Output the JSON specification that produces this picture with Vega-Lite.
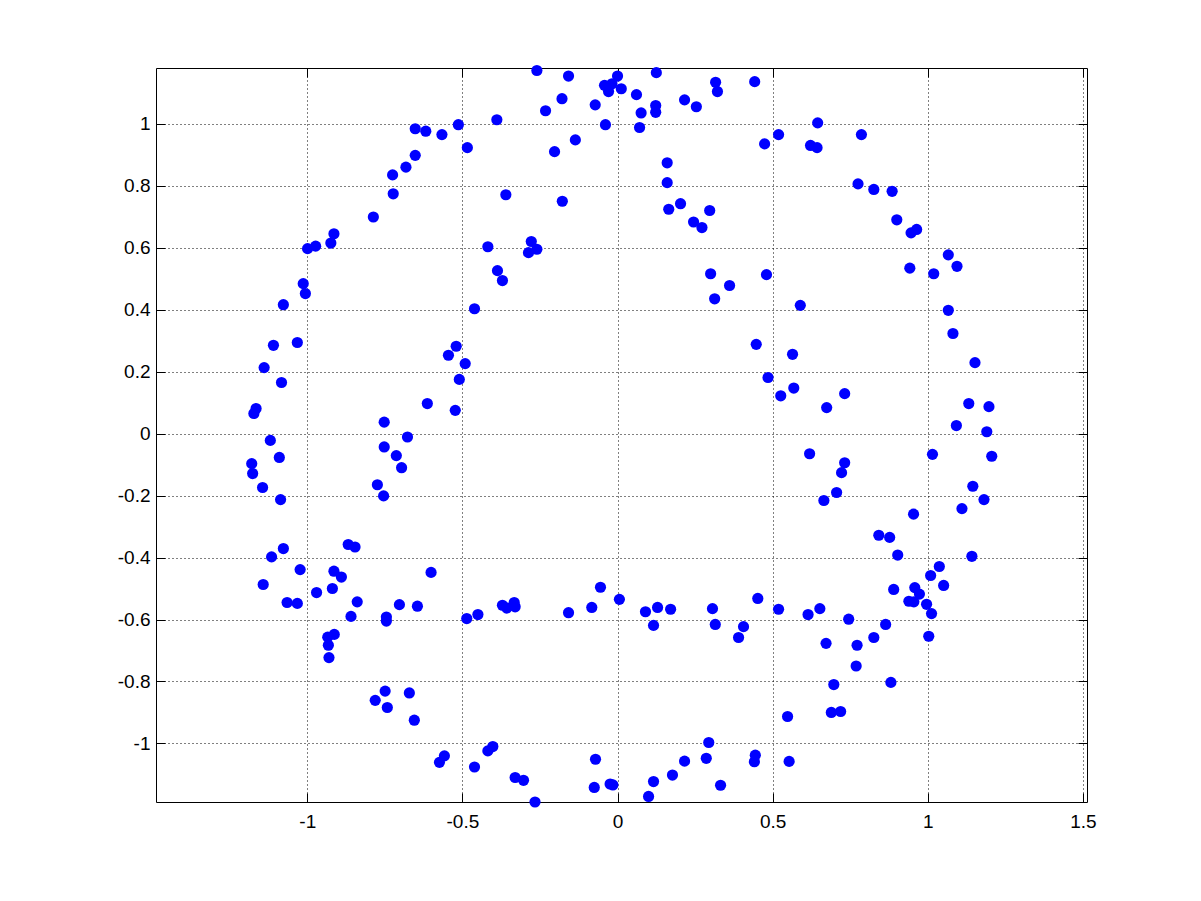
{
  "$schema": "https://vega.github.io/schema/vega-lite/v6.json",
  "width": 931,
  "height": 734,
  "autosize": {"type": "none"},
  "padding": {"left": 156, "top": 68, "right": 114, "bottom": 99},
  "background": "white",
  "config": {
    "view": {"stroke": "black", "strokeWidth": 1},
    "axis": {
      "labelFont": "Liberation Sans",
      "labelFontSize": 19,
      "labelColor": "black",
      "domain": false,
      "tickColor": "black",
      "tickSize": -9,
      "tickWidth": 1,
      "gridColor": "black",
      "gridOpacity": 1,
      "gridDash": [1, 3],
      "gridWidth": 1,
      "title": null
    }
  },
  "data": {"values": [
    {"x": -0.260, "y": 1.172}, {"x": -0.158, "y": 1.154}, {"x": 0.000, "y": 1.154}, {"x": 0.125, "y": 1.165},
    {"x": -0.042, "y": 1.124}, {"x": -0.018, "y": 1.129}, {"x": -0.029, "y": 1.104}, {"x": 0.012, "y": 1.113},
    {"x": 0.061, "y": 1.094}, {"x": -0.072, "y": 1.061}, {"x": -0.179, "y": 1.081}, {"x": -0.232, "y": 1.042},
    {"x": -0.389, "y": 1.013}, {"x": -0.513, "y": 0.997}, {"x": -0.039, "y": 0.997}, {"x": 0.076, "y": 1.035},
    {"x": 0.123, "y": 1.059}, {"x": 0.123, "y": 1.037}, {"x": 0.071, "y": 0.988}, {"x": 0.216, "y": 1.077},
    {"x": 0.254, "y": 1.055}, {"x": 0.316, "y": 1.134}, {"x": 0.322, "y": 1.104}, {"x": 0.442, "y": 1.136},
    {"x": 0.474, "y": 0.935}, {"x": -0.566, "y": 0.965}, {"x": -0.484, "y": 0.923}, {"x": -0.203, "y": 0.910},
    {"x": -0.136, "y": 0.948}, {"x": 0.160, "y": 0.874}, {"x": 0.160, "y": 0.810}, {"x": -0.360, "y": 0.771},
    {"x": -0.178, "y": 0.750}, {"x": 0.165, "y": 0.724}, {"x": 0.203, "y": 0.742}, {"x": 0.297, "y": 0.720},
    {"x": 0.245, "y": 0.683}, {"x": 0.272, "y": 0.665}, {"x": -0.418, "y": 0.603}, {"x": -0.278, "y": 0.620},
    {"x": -0.287, "y": 0.584}, {"x": -0.260, "y": 0.595}, {"x": -0.387, "y": 0.526}, {"x": -0.371, "y": 0.494},
    {"x": -0.461, "y": 0.403}, {"x": 0.300, "y": 0.516}, {"x": 0.361, "y": 0.478}, {"x": 0.313, "y": 0.435},
    {"x": 0.480, "y": 0.513},
    {"x": -1.077, "y": 0.416}, {"x": -1.013, "y": 0.484}, {"x": -1.006, "y": 0.452}, {"x": -0.999, "y": 0.597},
    {"x": -0.973, "y": 0.605}, {"x": -0.924, "y": 0.615}, {"x": -0.914, "y": 0.645}, {"x": -0.787, "y": 0.699},
    {"x": -0.723, "y": 0.774}, {"x": -0.725, "y": 0.835}, {"x": -0.682, "y": 0.860}, {"x": -0.652, "y": 0.898},
    {"x": -0.652, "y": 0.984}, {"x": -0.618, "y": 0.976},
    {"x": 0.519, "y": 0.965}, {"x": 0.645, "y": 1.003}, {"x": 0.622, "y": 0.930}, {"x": 0.643, "y": 0.923},
    {"x": 0.786, "y": 0.965}, {"x": 0.775, "y": 0.806}, {"x": 0.826, "y": 0.788}, {"x": 0.885, "y": 0.782},
    {"x": 0.900, "y": 0.690}, {"x": 0.946, "y": 0.648}, {"x": 0.964, "y": 0.659}, {"x": 1.066, "y": 0.577},
    {"x": 1.094, "y": 0.540}, {"x": 0.942, "y": 0.534}, {"x": 1.019, "y": 0.516}, {"x": 0.589, "y": 0.414},
    {"x": 1.066, "y": 0.398},
    {"x": -1.109, "y": 0.285}, {"x": -1.032, "y": 0.294}, {"x": -1.139, "y": 0.213}, {"x": -1.083, "y": 0.165},
    {"x": -1.165, "y": 0.081}, {"x": -1.172, "y": 0.065}, {"x": -1.119, "y": -0.022}, {"x": -1.090, "y": -0.077},
    {"x": -1.179, "y": -0.097}, {"x": -1.176, "y": -0.129}, {"x": -1.144, "y": -0.174}, {"x": -1.086, "y": -0.213},
    {"x": -0.752, "y": 0.037}, {"x": -0.752, "y": -0.043}, {"x": -0.677, "y": -0.011}, {"x": -0.713, "y": -0.071},
    {"x": -0.696, "y": -0.110}, {"x": -0.774, "y": -0.165}, {"x": -0.754, "y": -0.201}, {"x": -0.613, "y": 0.097},
    {"x": -0.545, "y": 0.253}, {"x": -0.520, "y": 0.282}, {"x": -0.491, "y": 0.226}, {"x": -0.510, "y": 0.175},
    {"x": -0.523, "y": 0.075}, {"x": -0.868, "y": -0.358}, {"x": -0.846, "y": -0.366}, {"x": -1.077, "y": -0.371},
    {"x": -1.115, "y": -0.398},
    {"x": 0.447, "y": 0.288}, {"x": 0.485, "y": 0.181},
    {"x": 1.081, "y": 0.323}, {"x": 1.152, "y": 0.229}, {"x": 0.564, "y": 0.256}, {"x": 0.568, "y": 0.147},
    {"x": 0.526, "y": 0.122}, {"x": 0.732, "y": 0.129}, {"x": 0.674, "y": 0.084}, {"x": 1.132, "y": 0.097},
    {"x": 1.197, "y": 0.087}, {"x": 1.092, "y": 0.026}, {"x": 1.190, "y": 0.006}, {"x": 0.619, "y": -0.065},
    {"x": 0.732, "y": -0.094}, {"x": 0.722, "y": -0.126}, {"x": 0.706, "y": -0.190}, {"x": 0.665, "y": -0.216},
    {"x": 1.015, "y": -0.067}, {"x": 1.206, "y": -0.073}, {"x": 1.145, "y": -0.170}, {"x": 1.181, "y": -0.213},
    {"x": 1.110, "y": -0.242}, {"x": 0.954, "y": -0.260}, {"x": 0.842, "y": -0.328}, {"x": 0.877, "y": -0.335},
    {"x": 0.903, "y": -0.392}, {"x": 1.142, "y": -0.396},
    {"x": -1.023, "y": -0.439}, {"x": -1.142, "y": -0.487}, {"x": -1.065, "y": -0.545}, {"x": -1.032, "y": -0.548},
    {"x": -0.970, "y": -0.513}, {"x": -0.919, "y": -0.500}, {"x": -0.914, "y": -0.444}, {"x": -0.890, "y": -0.463},
    {"x": -0.839, "y": -0.543}, {"x": -0.859, "y": -0.590}, {"x": -0.745, "y": -0.592}, {"x": -0.745, "y": -0.605},
    {"x": -0.703, "y": -0.552}, {"x": -0.645, "y": -0.557}, {"x": -0.601, "y": -0.448}, {"x": -0.486, "y": -0.597},
    {"x": -0.934, "y": -0.657}, {"x": -0.913, "y": -0.648}, {"x": -0.932, "y": -0.683}, {"x": -0.930, "y": -0.723},
    {"x": -0.749, "y": -0.831}, {"x": -0.671, "y": -0.837}, {"x": -0.781, "y": -0.861}, {"x": -0.742, "y": -0.884},
    {"x": -0.655, "y": -0.925}, {"x": -0.558, "y": -1.040}, {"x": -0.574, "y": -1.061},
    {"x": -0.450, "y": -0.584}, {"x": -0.371, "y": -0.554}, {"x": -0.357, "y": -0.563}, {"x": -0.333, "y": -0.545},
    {"x": -0.330, "y": -0.559}, {"x": -0.158, "y": -0.578}, {"x": -0.083, "y": -0.561}, {"x": -0.055, "y": -0.496},
    {"x": 0.006, "y": -0.535}, {"x": 0.090, "y": -0.575}, {"x": 0.129, "y": -0.561}, {"x": 0.116, "y": -0.619},
    {"x": 0.171, "y": -0.567}, {"x": 0.306, "y": -0.565}, {"x": 0.315, "y": -0.616}, {"x": 0.406, "y": -0.623},
    {"x": 0.390, "y": -0.658}, {"x": 0.452, "y": -0.532}, {"x": -0.461, "y": -1.076}, {"x": -0.418, "y": -1.024},
    {"x": -0.402, "y": -1.010}, {"x": -0.330, "y": -1.110}, {"x": -0.303, "y": -1.119}, {"x": -0.266, "y": -1.189},
    {"x": -0.071, "y": -1.051}, {"x": -0.075, "y": -1.142}, {"x": -0.024, "y": -1.131}, {"x": -0.015, "y": -1.134},
    {"x": 0.100, "y": -1.171}, {"x": 0.116, "y": -1.123}, {"x": 0.177, "y": -1.102}, {"x": 0.216, "y": -1.057},
    {"x": 0.286, "y": -1.048}, {"x": 0.294, "y": -0.997}, {"x": 0.332, "y": -1.135}, {"x": 0.444, "y": -1.038},
    {"x": 0.441, "y": -1.059},
    {"x": 0.519, "y": -0.567}, {"x": 0.614, "y": -0.584}, {"x": 0.652, "y": -0.565}, {"x": 0.745, "y": -0.599},
    {"x": 0.864, "y": -0.616}, {"x": 0.826, "y": -0.658}, {"x": 0.772, "y": -0.683}, {"x": 0.672, "y": -0.677},
    {"x": 0.769, "y": -0.750}, {"x": 0.697, "y": -0.810}, {"x": 0.881, "y": -0.803}, {"x": 0.689, "y": -0.900},
    {"x": 0.719, "y": -0.897}, {"x": 0.548, "y": -0.913}, {"x": 0.553, "y": -1.058}, {"x": 1.037, "y": -0.429},
    {"x": 1.009, "y": -0.458}, {"x": 1.051, "y": -0.490}, {"x": 0.890, "y": -0.503}, {"x": 0.958, "y": -0.497},
    {"x": 0.973, "y": -0.518}, {"x": 0.939, "y": -0.541}, {"x": 0.955, "y": -0.543}, {"x": 0.996, "y": -0.551},
    {"x": 1.012, "y": -0.581}, {"x": 1.003, "y": -0.654}
  ]},
  "layer": [
    {
      "mark": {"type": "point", "filled": true, "shape": "circle", "size": 125, "color": "#0000FF", "opacity": 0, "clip": false},
      "encoding": {
        "x": {"field": "x", "type": "quantitative",
          "scale": {"domain": [-1.4875, 1.513], "nice": false, "zero": false},
          "axis": {"orient": "top", "labels": false, "grid": false, "values": [-1, -0.5, 0, 0.5, 1, 1.5]}},
        "y": {"field": "y", "type": "quantitative",
          "scale": {"domain": [-1.189, 1.18], "nice": false, "zero": false},
          "axis": {"orient": "right", "labels": false, "grid": false, "values": [-1, -0.8, -0.6, -0.4, -0.2, 0, 0.2, 0.4, 0.6, 0.8, 1]}}
      }
    },
    {
      "mark": {"type": "point", "filled": true, "shape": "circle", "size": 125, "color": "#0000FF", "opacity": 1, "clip": false},
      "encoding": {
        "x": {"field": "x", "type": "quantitative",
          "scale": {"domain": [-1.4875, 1.513], "nice": false, "zero": false},
          "axis": {"orient": "bottom", "grid": true, "labelPadding": 19, "values": [-1, -0.5, 0, 0.5, 1, 1.5],
            "labelExpr": "'' + datum.value"}},
        "y": {"field": "y", "type": "quantitative",
          "scale": {"domain": [-1.189, 1.18], "nice": false, "zero": false},
          "axis": {"orient": "left", "grid": true, "labelPadding": 15, "values": [-1, -0.8, -0.6, -0.4, -0.2, 0, 0.2, 0.4, 0.6, 0.8, 1],
            "labelExpr": "'' + datum.value"}}
      }
    }
  ],
  "resolve": {"axis": {"x": "independent", "y": "independent"}}
}
